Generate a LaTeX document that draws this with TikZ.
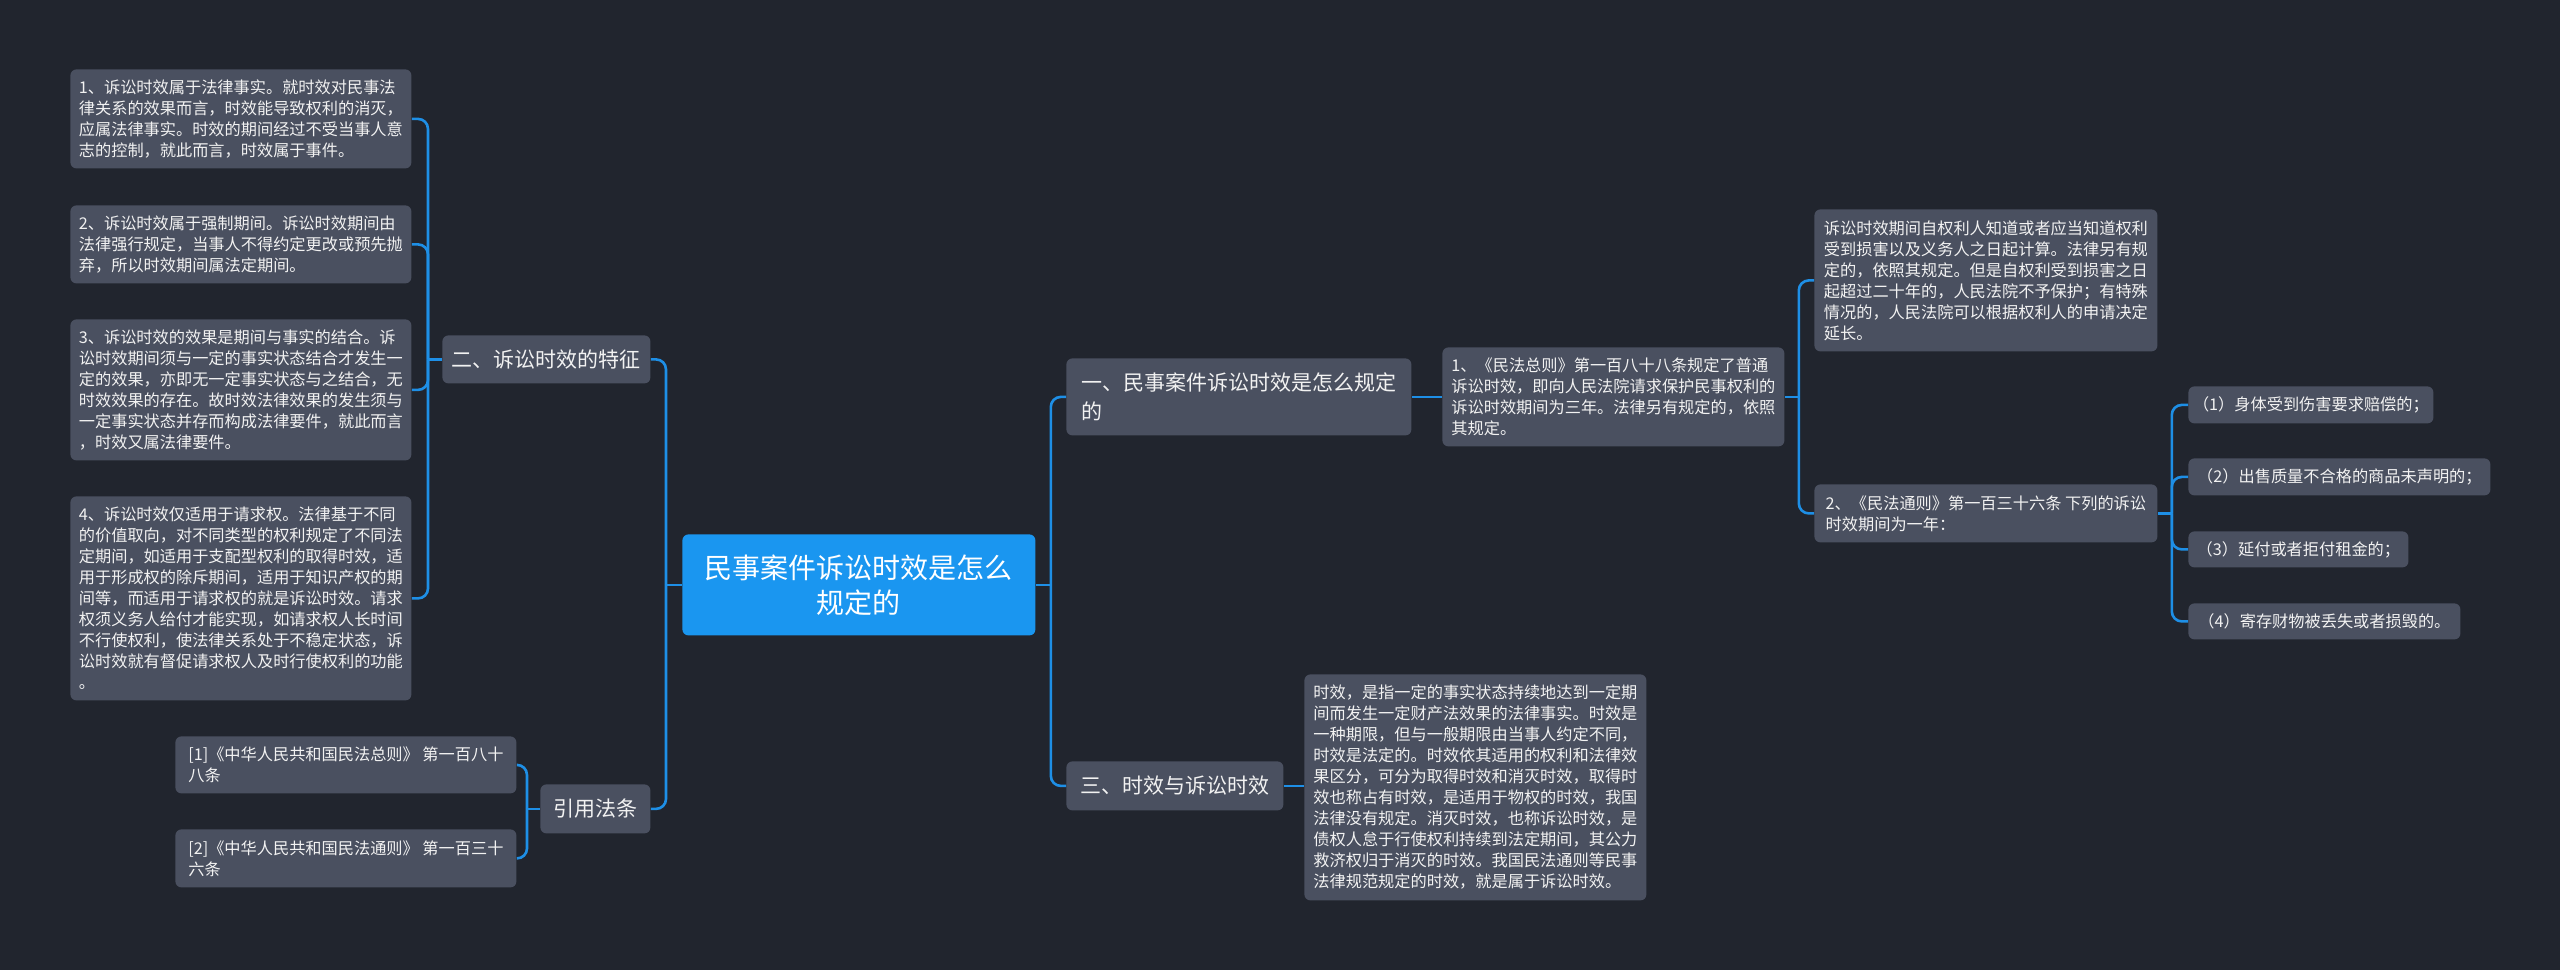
\documentclass[tikz,border=0pt]{standalone}
\usepackage{fontspec}
\setmainfont{Noto Sans CJK SC}
\definecolor{bg}{HTML}{21252E}
\definecolor{boxc}{HTML}{4A5060}
\definecolor{conn}{HTML}{1E8FE6}
\definecolor{mainc}{HTML}{1A96F0}
\definecolor{txt}{HTML}{F2F2F2}
\tikzset{
 bx/.style={rounded corners=3pt, fill=boxc, text=txt, inner sep=0pt, align=left, anchor=north west, font=\fontsize{8.1}{10.5}\selectfont},
 lv/.style={bx, font=\fontsize{10.5}{14.5}\selectfont},
 mainbox/.style={bx, fill=mainc, text=white, align=center, font=\fontsize{14}{17.5}\selectfont},
 cn/.style={draw=conn, line width=1.3pt, rounded corners=5pt},
}
\begin{document}
\begin{tikzpicture}[x=0.5pt,y=-0.5pt]
\fill[bg] (0,0) rectangle (2560,970);
\path[use as bounding box] (0,0) rectangle (2560,970);

% left column
\node[bx, minimum width=170.5pt, minimum height=49.5pt] (l1) at (70,69) {1、诉讼时效属于法律事实。就时效对民事法\\律关系的效果而言，时效能导致权利的消灭，\\应属法律事实。时效的期间经过不受当事人意\\志的控制，就此而言，时效属于事件。};
\node[bx, minimum width=170.5pt, minimum height=39pt] (l2) at (70,205) {2、诉讼时效属于强制期间。诉讼时效期间由\\法律强行规定，当事人不得约定更改或预先抛\\弃，所以时效期间属法定期间。};
\node[bx, minimum width=170.5pt, minimum height=70.5pt] (l3) at (70,319) {3、诉讼时效的效果是期间与事实的结合。诉\\讼时效期间须与一定的事实状态结合才发生一\\定的效果，亦即无一定事实状态与之结合，无\\时效效果的存在。故时效法律效果的发生须与\\一定事实状态并存而构成法律要件，就此而言\\，时效又属法律要件。};
\node[bx, minimum width=170.5pt, minimum height=102pt] (l4) at (70,496) {4、诉讼时效仅适用于请求权。法律基于不同\\的价值取向，对不同类型的权利规定了不同法\\定期间，如适用于支配型权利的取得时效，适\\用于形成权的除斥期间，适用于知识产权的期\\间等，而适用于请求权的就是诉讼时效。请求\\权须义务人给付才能实现，如请求权人长时间\\不行使权利，使法律关系处于不稳定状态，诉\\讼时效就有督促请求权人及时行使权利的功能\\。};

\node[lv, minimum width=104pt, minimum height=24pt] (er) at (442,335) {二、诉讼时效的特征};
\node[lv, minimum width=55pt, minimum height=24.5pt] (yy) at (540,784) {引用法条};
\node[bx, minimum width=170.5pt, minimum height=28.5pt] (r1) at (175,736) {[1]《中华人民共和国民法总则》 第一百八十\\八条};
\node[bx, minimum width=170.5pt, minimum height=29pt] (r2) at (175,829) {[2]《中华人民共和国民法通则》 第一百三十\\六条};

% center
\node[mainbox, minimum width=176.5pt, minimum height=50.5pt] (c) at (682,534) {民事案件诉讼时效是怎么\\规定的};

% right side
\node[lv, minimum width=172.5pt, minimum height=38.5pt] (y1) at (1066,358) {一、民事案件诉讼时效是怎么规定\\的};
\node[lv, minimum width=108.5pt, minimum height=24.5pt] (s3) at (1066,761) {三、时效与诉讼时效};
\node[bx, minimum width=171pt, minimum height=113pt] (sx) at (1304,674) {时效，是指一定的事实状态持续地达到一定期\\间而发生一定财产法效果的法律事实。时效是\\一种期限，但与一般期限由当事人约定不同，\\时效是法定的。时效依其适用的权利和法律效\\果区分，可分为取得时效和消灭时效，取得时\\效也称占有时效，是适用于物权的时效，我国\\法律没有规定。消灭时效，也称诉讼时效，是\\债权人怠于行使权利持续到法定期间，其公力\\救济权归于消灭的时效。我国民法通则等民事\\法律规范规定的时效，就是属于诉讼时效。};
\node[bx, minimum width=171pt, minimum height=49.5pt] (n1) at (1442,347) {1、《民法总则》第一百八十八条规定了普通\\诉讼时效，即向人民法院请求保护民事权利的\\诉讼时效期间为三年。法律另有规定的，依照\\其规定。};
\node[bx, minimum width=171.5pt, minimum height=71pt] (na) at (1814,209) {诉讼时效期间自权利人知道或者应当知道权利\\受到损害以及义务人之日起计算。法律另有规\\定的，依照其规定。但是自权利受到损害之日\\起超过二十年的，人民法院不予保护；有特殊\\情况的，人民法院可以根据权利人的申请决定\\延长。};
\node[bx, minimum width=171.5pt, minimum height=29pt] (n2) at (1814,484) {2、《民法通则》第一百三十六条 下列的诉讼\\时效期间为一年：};
\node[bx, minimum width=122.5pt, minimum height=18.5pt] (i1) at (2188,386) {（1）身体受到伤害要求赔偿的；};
\node[bx, minimum width=151pt, minimum height=18.5pt] (i2) at (2188,458) {（2）出售质量不合格的商品未声明的；};
\node[bx, minimum width=110pt, minimum height=18pt] (i3) at (2188,531) {（3）延付或者拒付租金的；};
\node[bx, minimum width=136pt, minimum height=18pt] (i4) at (2188,603) {（4）寄存财物被丢失或者损毁的。};

% connectors
\draw[cn] (c.west) -- ++(-16,0) coordinate (tl);
\draw[cn] (tl) |- (er.east);
\draw[cn] (tl) |- (yy.east);
\draw[cn] (er.west) -- ++(-14,0) coordinate (t2);
\draw[cn] (t2) |- (l1.east);
\draw[cn] (t2) |- (l2.east);
\draw[cn] (t2) |- (l3.east);
\draw[cn] (t2) |- (l4.east);
\draw[cn] (yy.west) -- ++(-13,0) coordinate (t3);
\draw[cn] (t3) |- (r1.east);
\draw[cn] (t3) |- (r2.east);
\draw[cn] (c.east) -- ++(15,0) coordinate (tr);
\draw[cn] (tr) |- (y1.west);
\draw[cn] (tr) |- (s3.west);
\draw[cn] (y1.east) -- (n1.west);
\draw[cn] (s3.east) -- (s3.east -| sx.west);
\draw[cn] (n1.east) -- ++(14,0) coordinate (t4);
\draw[cn] (t4) |- (na.west);
\draw[cn] (t4) |- (n2.west);
\draw[cn] (n2.east) -- ++(14,0) coordinate (t5);
\draw[cn] (t5) |- (i1.west);
\draw[cn] (t5) |- (i2.west);
\draw[cn] (t5) |- (i3.west);
\draw[cn] (t5) |- (i4.west);
\end{tikzpicture}
\end{document}
